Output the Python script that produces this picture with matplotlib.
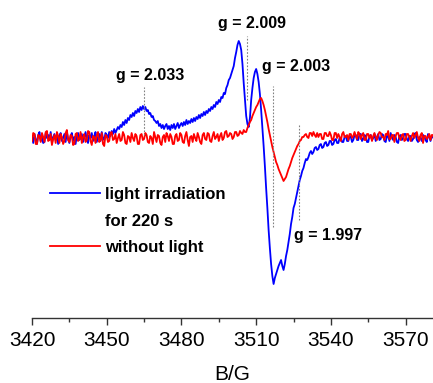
# EPR spectra, light vs dark
import numpy as np
import matplotlib.pyplot as plt

plt.rcParams['font.family'] = ['Liberation Sans', 'DejaVu Sans']

# light irradiation for 220 s, 0.5 G steps from 3420 G (arb. units)
blue = [2, -5, 4, -1, -6, 3, 6, -3, 1, -5,
        -4, 5, 0, 3, -2, 6, -5, 1, 4, -2,
        3, -6, 2, 5, -3, 0, 4, -4, 6, -1,
        -5, 2, 5, -3, 1, -6, 3, 5, -2, 0,
        4, -4, 1, 6, -2, -5, 3, 0, 5, -3,
        2, 6, -4, 1, 4, -3, 6, 0, -2, 5,
        3, 0, 6, 2, 7, 4, 9, 5, 8, 11,
        9, 13, 11, 16, 13, 18, 15, 20, 18, 23,
        21, 25, 22, 27, 25, 29, 26, 31, 28, 32,
        29, 31, 27, 28, 24, 25, 21, 22, 18, 17,
        15, 17, 12, 14, 10, 13, 9, 12, 14, 9,
        12, 8, 13, 10, 14, 9, 12, 15, 10, 13,
        15, 12, 16, 13, 18, 14, 17, 15, 19, 16,
        20, 17, 21, 19, 23, 20, 24, 22, 26, 23,
        27, 25, 29, 27, 31, 29, 33, 31, 36, 34,
        38, 36, 41, 40, 45, 44, 50, 53, 58, 60,
        64, 68, 72, 80, 86, 93, 97, 94, 88, 74,
        55, 38, 22, 14, 11, 20, 38, 50, 60, 66,
        69, 64, 56, 44, 28, 10, -8, -28, -50, -70,
        -92, -110, -126, -138, -146, -140, -136, -132, -128, -125,
        -122, -128, -132, -126, -118, -112, -104, -96, -86, -79,
        -70, -66, -60, -54, -48, -42, -38, -33, -30, -25,
        -21, -22, -19, -15, -13, -16, -14, -10, -9, -12,
        -11, -7, -6, -10, -9, -5, -4, -8, -7, -3,
        -3, -7, -6, -2, -1, -5, -5, 0, 0, -4,
        -4, 1, 2, -3, -3, 2, 1, -4, -2, 3,
        3, -2, -2, 4, 4, -3, -1, 3, 2, -4,
        -4, 2, 3, -2, 0, 4, -3, 1, 4, -2,
        -1, 4, 3, -3, -4, 2, 2, -3, 5, 1,
        -2, 3, 1, -4, -5, 2, 3, -2, 0, 4,
        4, -1, -3, 2, 2, -3, -1, 4, 5, -2,
        -4, 1, 0, -3, 3, 2, -2, -4, 4, 1,
        -3, 2, 1, -2]

# without light, same field steps
red = [-3, 5, 4, -6, -6, 3, 2, -4, 5, 1,
       -4, 6, 7, -3, -2, 4, -7, -1, 3, -5,
       6, 2, -5, 4, 1, -6, -3, 5, 8, -2,
       -4, 3, 2, -7, -6, 4, 5, -3, -1, 6,
       -5, 1, 4, -4, -2, 7, 6, -3, -7, 2,
       1, -5, 3, 6, -4, -2, 5, -6, -8, 3,
       2, -4, -3, 5, 6, -2, -1, 4, -5, 0,
       4, -3, -2, 6, 3, -5, -6, 2, 1, -4,
       5, 0, -3, 4, 2, -6, -6, 3, 4, -2,
       -1, 5, 3, -4, -5, 2, 0, -6, 6, 1,
       -4, 3, 2, -5, -7, 1, 3, -4, 5, 2,
       -3, 4, 1, -6, -6, 2, 4, -3, -2, 5,
       3, -4, -5, 2, 6, -2, -8, 1, 2, -4,
       4, 0, -3, 5, 1, -4, -6, 3, 5, -1,
       -2, 5, 4, -3, -4, 2, 6, -1, 1, 4,
       -3, 2, 5, -2, 0, 6, 7, 1, 2, 5,
       4, -1, 1, 6, 6, 2, 3, 7, 5, 4,
       8, 6, 6, 10, 13, 16, 18, 22, 25, 28,
       31, 33, 36, 39, 40, 37, 33, 28, 22, 16,
       9, 3, -3, -9, -14, -19, -24, -27, -31, -34,
       -37, -40, -43, -41, -39, -35, -31, -28, -24, -20,
       -17, -14, -11, -8, -6, -3, -2, 1, 1, 3,
       4, 1, 0, 5, 5, 2, 6, 3, 1, 5,
       1, 4, 4, -1, -1, 5, 5, 2, 2, 6,
       3, -2, -2, 5, 5, 0, 4, 1, -3, 4,
       6, 1, 1, 3, -2, 4, 4, 0, 2, 6,
       2, -1, 6, 4, -1, 3, 5, -2, -2, 4,
       4, 0, 3, -3, 2, 5, 1, -2, 3, 6,
       5, 1, 1, -2, 4, 3, 7, -1, -1, 3,
       3, -4, 2, 5, 5, 0, -2, 3, 4, -3,
       -2, 4, 4, 1, -3, 2, 5, 0, 3, 6,
       0, -3, 3, 5, -5, 2, 2, -1, 1, 4,
       -2, 3, 3, -1]

field_blue = 3420 + 0.5 * np.arange(len(blue))
field_red = 3420 + 0.5 * np.arange(len(red))

# g-value marks: label, field, dotted line span, label position
g_labels = ['g = 2.033', 'g = 2.009', 'g = 2.003', 'g = 1.997']
g_field = [3465.0, 3506.3, 3516.8, 3527.2]
g_lo = [3, 38, -89, -82]
g_hi = [51, 102, 52, 14]
g_text_x = [3467.4, 3508.5, 3526.2, 3539.0]
g_text_y = [58, 110, 67, -102]

xticks = [3420, 3450, 3480, 3510, 3540, 3570]

fig = plt.figure(figsize=(4.33, 3.83), dpi=100)
ax = fig.add_axes([32/433, 1 - 318/383, 1 - 32/433, 318/383])

lb, = ax.plot(field_blue, blue, color='#0000ff', lw=1.3)
lr, = ax.plot(field_red, red, color='#ff0000', lw=1.3)

for xg, lo, hi in zip(g_field, g_lo, g_hi):
    ax.plot([xg, xg], [lo, hi], color='#808080', lw=0.8, ls=(0, (1.5, 1.5)))
for lab, tx, ty in zip(g_labels, g_text_x, g_text_y):
    ax.text(tx, ty, lab, ha='center', va='baseline', fontsize=11.5, fontweight='bold')

ax.set_xlim(3420, 3581)
ax.set_ylim(-180, 138)
ax.set_xticks(xticks)
ax.set_xticks(np.arange(3435, 3581, 30), minor=True)
ax.set_yticks([])
for s in ['left', 'top', 'right']:
    ax.spines[s].set_visible(False)
ax.spines['bottom'].set_linewidth(1.0)
ax.spines['bottom'].set_color('#333333')
ax.tick_params(axis='x', which='major', length=5, width=1.0, labelsize=15, pad=4, color='#333333')
ax.tick_params(axis='x', which='minor', length=3, width=1.0, color='#333333')
ax.set_xlabel('B/G', fontsize=15, labelpad=11.5)

blank, = ax.plot([], [], color='none')
ax.legend([lb, blank, lr], ['light irradiation', 'for 220 s', 'without light'],
          loc='upper left', bbox_to_anchor=(50/433, 1 - 187/383), bbox_transform=fig.transFigure,
          frameon=False, borderpad=0, borderaxespad=0, handlelength=3.0, handletextpad=0.3,
          labelspacing=0.7, prop={'weight': 'bold', 'size': 12})

fig.savefig('out.png', dpi=100)
